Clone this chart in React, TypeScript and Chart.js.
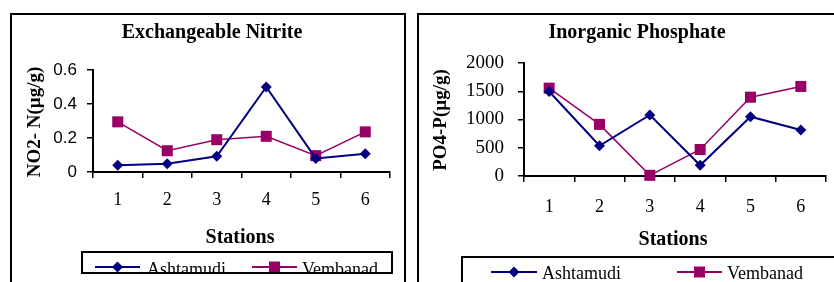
import React, { useEffect, useRef } from "react";
import { Chart, registerables } from "chart.js";

Chart.register(...registerables);

const stations = ["1", "2", "3", "4", "5", "6"];
const seriesNames = ["Ashtamudi", "Vembanad"];
const nitriteAshtamudi = [0.039, 0.049, 0.092, 0.5, 0.08, 0.108];
const nitriteVembanad = [0.295, 0.125, 0.19, 0.21, 0.096, 0.236];
const phosphateAshtamudi = [1496, 535, 1080, 190, 1050, 813];
const phosphateVembanad = [1555, 914, 12, 469, 1395, 1585];
const nitriteTicks = [0, 0.2, 0.4, 0.6];
const phosphateTicks = [0, 500, 1000, 1500, 2000];

const NAVY = "#000080";
const PLUM = "#990066";
const SERIF = "'Liberation Serif', 'Times New Roman', serif";
const SANS = "'Liberation Sans', Arial, sans-serif";

type Spec = {
  width: number;
  height: number;
  title: string;
  yTitle: string;
  xTitle: string;
  a: number[];
  v: number[];
  yTicks: number[];
  yFont: { family: string; size: number };
  area: { left: number; top: number; right: number; bottom: number };
  yPad: number;
  xPad: number;
  titlePos: [number, number];
  yTitlePos: [number, number];
  xTitlePos: [number, number];
  legend: {
    left: number;
    top: number;
    right: number;
    bottom: number;
    lineY: number;
    baseline: number;
    items: { x1: number; x2: number; tx: number }[];
  };
};

const X_AXIS_H = 40;

function drawMarker(ctx: CanvasRenderingContext2D, kind: number, x: number, y: number) {
  ctx.beginPath();
  if (kind === 0) {
    const r = 5.5;
    ctx.moveTo(x - r, y);
    ctx.lineTo(x, y - r);
    ctx.lineTo(x + r, y);
    ctx.lineTo(x, y + r);
    ctx.closePath();
    ctx.fillStyle = NAVY;
  } else {
    const s = 5.5;
    ctx.rect(x - s, y - s, 2 * s, 2 * s);
    ctx.fillStyle = PLUM;
  }
  ctx.fill();
}

function makeConfig(spec: Spec): any {
  const decor = {
    id: "decor",
    afterDraw(chart: any) {
      const ctx: CanvasRenderingContext2D = chart.ctx;
      ctx.save();
      ctx.fillStyle = "#000";
      ctx.textAlign = "center";
      ctx.textBaseline = "alphabetic";
      ctx.font = `bold 20px ${SERIF}`;
      ctx.fillText(spec.title, spec.titlePos[0], spec.titlePos[1]);
      ctx.fillText(spec.xTitle, spec.xTitlePos[0], spec.xTitlePos[1]);
      ctx.save();
      ctx.translate(spec.yTitlePos[0], spec.yTitlePos[1]);
      ctx.rotate(-Math.PI / 2);
      ctx.textBaseline = "middle";
      ctx.font = `bold 19px ${SERIF}`;
      ctx.fillText(spec.yTitle, 0, 0);
      ctx.restore();

      const L = spec.legend;
      ctx.save();
      ctx.beginPath();
      ctx.rect(L.left, L.top, L.right - L.left, L.bottom - L.top);
      ctx.clip();
      ctx.fillStyle = "#fff";
      ctx.fillRect(L.left, L.top, L.right - L.left, L.bottom - L.top);
      L.items.forEach((it, i) => {
        ctx.strokeStyle = i === 0 ? NAVY : PLUM;
        ctx.lineWidth = 2;
        ctx.beginPath();
        ctx.moveTo(it.x1, L.lineY);
        ctx.lineTo(it.x2, L.lineY);
        ctx.stroke();
        drawMarker(ctx, i, (it.x1 + it.x2) / 2, L.lineY);
        ctx.fillStyle = "#000";
        ctx.textAlign = "left";
        ctx.font = `18px ${SERIF}`;
        ctx.fillText(seriesNames[i], it.tx, L.baseline);
      });
      ctx.restore();
      ctx.strokeStyle = "#000";
      ctx.lineWidth = 2;
      ctx.strokeRect(L.left, L.top, L.right - L.left, L.bottom - L.top);
      ctx.restore();
    },
  };

  return {
    type: "line",
    data: {
      labels: stations,
      datasets: [
        {
          label: seriesNames[0],
          data: spec.a,
          borderColor: NAVY,
          backgroundColor: NAVY,
          borderWidth: 2,
          pointStyle: "rectRot",
          pointRadius: 5.5,
          pointBorderWidth: 0,
          pointBackgroundColor: NAVY,
          tension: 0,
        },
        {
          label: seriesNames[1],
          data: spec.v,
          borderColor: PLUM,
          backgroundColor: PLUM,
          borderWidth: 1.5,
          pointStyle: "rect",
          pointRadius: 7.8,
          pointBorderWidth: 0,
          pointBackgroundColor: PLUM,
          tension: 0,
        },
      ],
    },
    options: {
      animation: false,
      responsive: false,
      maintainAspectRatio: false,
      devicePixelRatio: 1,
      events: [],
      layout: {
        padding: {
          left: 0,
          top: spec.area.top,
          right: spec.width - spec.area.right,
          bottom: spec.height - spec.area.bottom - X_AXIS_H,
        },
      },
      plugins: {
        legend: { display: false },
        title: { display: false },
        tooltip: { enabled: false },
      },
      elements: { line: { clip: false } },
      datasets: { line: { clip: false } },
      scales: {
        x: {
          type: "category",
          offset: true,
          afterFit: (s: any) => {
            s.height = X_AXIS_H;
          },
          border: { display: true, color: "#000", width: 2 },
          grid: {
            display: true,
            offset: true,
            drawOnChartArea: false,
            drawTicks: true,
            tickLength: 6,
            color: "#000",
            lineWidth: 1.5,
          },
          ticks: {
            color: "#000",
            padding: spec.xPad,
            maxRotation: 0,
            font: { family: SERIF, size: 18 },
          },
        },
        y: {
          type: "linear",
          min: spec.yTicks[0],
          max: spec.yTicks[spec.yTicks.length - 1],
          afterFit: (s: any) => {
            s.width = spec.area.left;
          },
          afterBuildTicks: (s: any) => {
            s.ticks = spec.yTicks.map((v) => ({ value: v }));
          },
          border: { display: true, color: "#000", width: 2 },
          grid: {
            display: true,
            drawOnChartArea: false,
            drawTicks: true,
            tickLength: 6,
            color: "#000",
            lineWidth: 1.5,
          },
          ticks: {
            color: "#000",
            padding: spec.yPad,
            font: spec.yFont,
            callback: (v: any) => String(v),
          },
        },
      },
    },
    plugins: [decor],
  };
}

function Panel(props: { spec: Spec; left: number; top: number; outerW: number; outerH: number }) {
  const ref = useRef<HTMLCanvasElement | null>(null);
  useEffect(() => {
    if (!ref.current) return;
    const chart = new Chart(ref.current, makeConfig(props.spec));
    return () => chart.destroy();
  }, []);
  return (
    <div
      style={{
        position: "absolute",
        left: props.left,
        top: props.top,
        width: props.outerW,
        height: props.outerH,
        border: "2px solid #000",
        boxSizing: "border-box",
        background: "#fff",
      }}
    >
      <canvas
        ref={ref}
        width={props.spec.width}
        height={props.spec.height}
        style={{ display: "block", width: props.spec.width, height: props.spec.height }}
      />
    </div>
  );
}

// canvas origin of left panel: page (12, 15); right panel: page (419, 15)
const leftSpec: Spec = {
  width: 392,
  height: 286,
  title: "Exchangeable Nitrite",
  yTitle: "NO2- N(µg/g)",
  xTitle: "Stations",
  a: nitriteAshtamudi,
  v: nitriteVembanad,
  yTicks: nitriteTicks,
  yFont: { family: SANS, size: 17 },
  area: { left: 81, top: 55, right: 378, bottom: 157 },
  yPad: 10,
  xPad: 11,
  titlePos: [200, 23],
  yTitlePos: [23, 107],
  xTitlePos: [228, 228],
  legend: {
    left: 70,
    top: 237,
    right: 380,
    bottom: 258,
    lineY: 252,
    baseline: 260,
    items: [
      { x1: 83, x2: 128, tx: 135 },
      { x1: 240, x2: 285, tx: 290 },
    ],
  },
};

const rightSpec: Spec = {
  width: 440,
  height: 286,
  title: "Inorganic Phosphate",
  yTitle: "PO4-P(µg/g)",
  xTitle: "Stations",
  a: phosphateAshtamudi,
  v: phosphateVembanad,
  yTicks: phosphateTicks,
  yFont: { family: SERIF, size: 19 },
  area: { left: 105, top: 48, right: 407, bottom: 161 },
  yPad: 14,
  xPad: 14,
  titlePos: [218, 23],
  yTitlePos: [22, 105],
  xTitlePos: [254, 230],
  legend: {
    left: 43,
    top: 242,
    right: 470,
    bottom: 300,
    lineY: 257,
    baseline: 264,
    items: [
      { x1: 72, x2: 118, tx: 123 },
      { x1: 258, x2: 303, tx: 308 },
    ],
  },
};

export default function App() {
  return (
    <div
      style={{
        position: "fixed",
        left: 0,
        top: 0,
        width: 834,
        height: 282,
        overflow: "hidden",
        background: "#fff",
      }}
    >
      <Panel spec={leftSpec} left={10} top={13} outerW={396} outerH={290} />
      <Panel spec={rightSpec} left={417} top={13} outerW={444} outerH={290} />
    </div>
  );
}
